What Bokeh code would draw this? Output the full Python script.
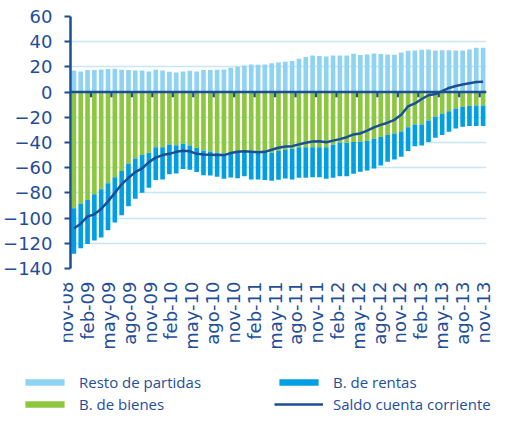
import math
from bokeh.plotting import figure
from bokeh.models import ColumnDataSource, Legend, LegendItem, Span, FixedTicker, Range1d
from bokeh.core.properties import value
from bokeh.layouts import column
from bokeh.embed import file_html
from bokeh.resources import INLINE

# ---- data (mm euros, cumulative 12 months) ----
month_names = ["ene", "feb", "mar", "abr", "may", "jun", "jul", "ago", "sep", "oct", "nov", "dic"]
periods = []
mi, yy = 10, 8
for _ in range(61):
    periods.append(f"{month_names[mi]}-{yy:02d}")
    mi += 1
    if mi == 12:
        mi, yy = 0, yy + 1

resto = [17.2, 16.4, 17.5, 17.5, 18.0, 18.3, 18.5, 17.7, 17.5, 17.2,
         17.2, 16.4, 17.7, 17.2, 16.1, 15.6, 16.4, 16.9, 16.4, 17.5,
         17.5, 17.7, 18.0, 19.3, 20.1, 21.2, 22.0, 21.7, 22.0, 22.8,
         23.5, 24.1, 24.6, 26.5, 27.8, 29.1, 28.6, 28.3, 29.1, 29.1,
         29.1, 30.4, 29.4, 29.9, 30.7, 30.2, 29.9, 29.6, 31.5, 32.8,
         33.1, 33.6, 33.9, 33.1, 33.3, 33.3, 33.1, 33.1, 33.9, 35.2, 35.2]

bienes = [-92.2, -88.7, -85.6, -81.0, -77.2, -72.4, -67.5, -62.7, -56.9, -52.6,
          -50.0, -48.1, -43.7, -43.7, -41.5, -42.1, -41.0, -42.3, -44.4, -46.3,
          -47.1, -48.1, -48.7, -47.6, -46.8, -47.4, -47.4, -47.4, -47.6, -48.1,
          -46.8, -45.5, -45.0, -43.7, -43.7, -43.7, -43.7, -43.7, -41.8, -40.2,
          -40.2, -39.7, -39.5, -38.9, -37.0, -35.7, -34.1, -32.8, -31.2, -27.8,
          -25.7, -25.7, -22.5, -19.5, -17.2, -15.1, -13.0, -11.9, -11.1, -10.6, -10.6]

rentas = [-36.1, -35.3, -34.9, -36.7, -38.1, -37.3, -36.0, -35.1, -33.6, -32.0,
          -29.8, -27.8, -26.1, -25.6, -23.6, -22.5, -20.1, -19.3, -19.1, -19.6,
          -19.0, -19.1, -20.1, -20.1, -21.5, -19.3, -21.9, -21.9, -22.2, -22.3,
          -22.8, -23.0, -24.3, -24.3, -24.3, -23.8, -23.8, -25.1, -26.2, -26.5,
          -26.5, -25.1, -23.7, -23.3, -23.6, -22.5, -21.2, -20.6, -20.1, -19.0,
          -17.2, -16.6, -17.2, -16.7, -16.9, -16.4, -15.8, -15.6, -15.9, -16.4, -16.4]

saldo = [-108.3, -104.5, -98.7, -97.0, -92.8, -86.7, -80.0, -73.2, -68.0, -63.5,
         -60.5, -55.6, -52.0, -50.0, -49.0, -47.4, -46.5, -47.0, -49.0, -49.5,
         -49.7, -50.0, -50.0, -48.4, -47.3, -47.0, -47.4, -47.8, -47.4, -45.8,
         -44.2, -43.1, -42.9, -41.5, -40.2, -39.2, -39.0, -39.8, -38.5, -37.3,
         -35.8, -33.6, -32.8, -30.5, -28.0, -26.0, -24.3, -22.0, -18.0, -11.3,
         -9.0, -5.5, -2.5, -1.5, 0.8, 3.3, 4.8, 6.0, 7.0, 8.0, 8.2]

y_ticks = [-140, -120, -100, -80, -60, -40, -20, 0, 20, 40, 60]

# ---- styling ----
C_RESTO = "#8FD3F3"
C_RENTAS = "#009EE2"
C_BIENES = "#8DC63F"
C_LINE = "#1B4F95"
C_TEXT = "#1F4E9A"
C_GRID = "#C8E7F6"
AXIS_FONT = "DejaVu Sans"

n = len(periods)
x = list(range(n))
src = ColumnDataSource(dict(x=x, resto=resto, bienes=bienes, rentas=rentas, saldo=saldo))

W = 491
BL, BR = 63, 5           # plot borders (left / right)

# ---- main chart ----
p = figure(width=W, height=278, output_backend="svg", toolbar_location=None,
           x_range=Range1d(-0.5, n - 0.5), y_range=Range1d(-140, 60),
           min_border_left=BL, min_border_right=BR, min_border_top=16, min_border_bottom=10)
p.frame_align = False
p.outline_line_color = None

p.vbar(x="x", top="resto", bottom=0, width=0.68, source=src,
       fill_color=C_RESTO, line_color=None)
p.vbar_stack(["bienes", "rentas"], x="x", width=0.68, source=src,
             fill_color=[C_BIENES, C_RENTAS], line_color=None)

p.add_layout(Span(location=0, dimension="width", line_color=C_LINE, line_width=2.5))

# category tick marks on the zero line (every 3 months, between categories)
tick_x = [i + 2.5 for i in range(0, n - 1, 3)]
p.segment(x0=tick_x, x1=tick_x, y0=[0] * len(tick_x), y1=[-4] * len(tick_x),
          line_color=C_LINE, line_width=2.2)

p.line(x="x", y="saldo", source=src, line_color=C_LINE, line_width=2.5)

p.yaxis.ticker = FixedTicker(ticks=y_ticks)
p.yaxis.axis_line_color = C_LINE
p.yaxis.axis_line_width = 2.5
p.yaxis.major_tick_line_color = C_LINE
p.yaxis.major_tick_line_width = 2
p.yaxis.major_tick_out = 6
p.yaxis.major_tick_in = 0
p.yaxis.minor_tick_line_color = None
p.yaxis.major_label_text_font = AXIS_FONT
p.yaxis.major_label_text_font_size = "18px"
p.yaxis.major_label_text_color = C_TEXT
p.yaxis.major_label_standoff = 12
p.xaxis.visible = False

p.xgrid.grid_line_color = None
p.ygrid.ticker = FixedTicker(ticks=y_ticks)
p.ygrid.grid_line_color = C_GRID
p.ygrid.grid_line_width = 1.5

# ---- category labels strip (same x scale as the chart, frame runs to the right edge) ----
label_idx = list(range(0, n, 3))
px_per_unit = (W - BL - BR) / n
s = figure(width=W, height=76, output_backend="svg", toolbar_location=None,
           x_range=Range1d(-0.5, -0.5 + (W - BL) / px_per_unit), y_range=Range1d(0, 76),
           x_axis_type=None, y_axis_type=None,
           min_border_left=BL, min_border_right=0, min_border_top=0, min_border_bottom=0)
s.frame_align = False
s.outline_line_color = None
s.grid.grid_line_color = None
s.text(x=label_idx, y=[73] * len(label_idx), text=[periods[i] for i in label_idx],
       angle=math.pi / 2, text_align="right", text_baseline="middle",
       text_font=value(AXIS_FONT), text_font_size="18px", text_color=C_TEXT)

# ---- legend panel ----
q = figure(width=W, height=60, output_backend="svg", toolbar_location=None,
           x_axis_type=None, y_axis_type=None, x_range=Range1d(0, 1), y_range=Range1d(0, 1),
           min_border_left=0, min_border_right=0, min_border_top=0, min_border_bottom=0)
q.frame_align = False
q.outline_line_color = None
q.grid.grid_line_color = None
lr_resto = q.vbar(x=[5], top=[5], width=0.5, fill_color=C_RESTO, line_color=None)
lr_rentas = q.vbar(x=[5], top=[5], width=0.5, fill_color=C_RENTAS, line_color=None)
lr_bienes = q.vbar(x=[5], top=[5], width=0.5, fill_color=C_BIENES, line_color=None)
lr_saldo = q.line(x=[5, 6], y=[5, 5], line_color=C_LINE, line_width=2.5)

legend_style = dict(orientation="vertical", glyph_width=49, glyph_height=8, label_standoff=10,
                    label_height=16, spacing=2, padding=0, margin=0,
                    border_line_color=None, background_fill_alpha=0,
                    label_text_font="Open Sans", label_text_font_size="15px",
                    label_text_color=C_TEXT)
legend_left = Legend(items=[
    LegendItem(label="Resto de partidas", renderers=[lr_resto]),
    LegendItem(label="B. de bienes", renderers=[lr_bienes]),
], location=(20, 0), **legend_style)
legend_right = Legend(items=[
    LegendItem(label="B. de rentas", renderers=[lr_rentas]),
    LegendItem(label="Saldo cuenta corriente", renderers=[lr_saldo]),
], location=(274, 0), **legend_style)
q.add_layout(legend_left, "center")
q.add_layout(legend_right, "center")

layout = column(p, s, q, spacing=0)
open("out.html", "w").write(file_html(layout, INLINE))
